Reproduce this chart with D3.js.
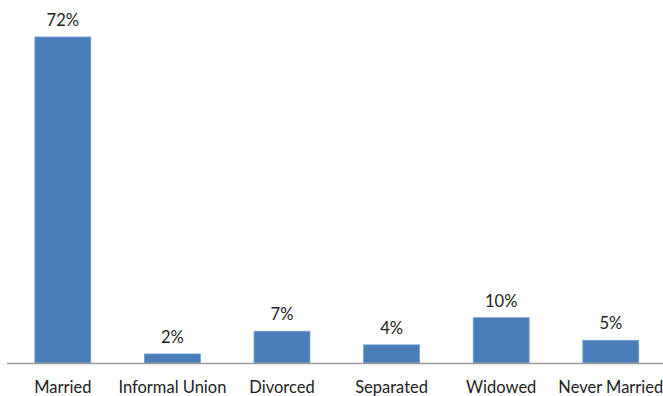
<!DOCTYPE html>
<html>
<head>
<meta charset="utf-8">
<script src="https://cdn.jsdelivr.net/npm/d3@7"></script>
<style>
  html, body { margin: 0; padding: 0; background: #fff; }
  svg { display: block; }
  text { font-family: Lato, "Open Sans", sans-serif; fill: #222; }
</style>
</head>
<body>
<svg id="chart" width="663" height="396"></svg>
<script>
// Marital status distribution (percent)
const categories = ["Married", "Informal Union", "Divorced", "Separated", "Widowed", "Never Married"];
const values = [72, 2, 7, 4, 10, 5];

const width = 663, height = 396;
const baseY = 363;
const svg = d3.select("#chart");

const x = d3.scaleBand()
  .domain(categories)
  .range([8, 665.6])
  .paddingInner(0.49)
  .paddingOuter(0.245);

const y = d3.scaleLinear()
  .domain([0, 80])
  .range([baseY, baseY - 80 * 4.528]);

// Bars
svg.selectAll("rect.bar")
  .data(values)
  .join("rect")
  .attr("class", "bar")
  .attr("x", (d, i) => x(categories[i]))
  .attr("y", d => y(d))
  .attr("width", x.bandwidth())
  .attr("height", d => baseY - y(d))
  .attr("fill", "#4a7ebb")
  .attr("stroke", "#6e9bd1")
  .attr("stroke-width", 0.8);

// Value labels
svg.selectAll("text.val")
  .data(values)
  .join("text")
  .attr("class", "val")
  .attr("x", (d, i) => x(categories[i]) + x.bandwidth() / 2)
  .attr("y", d => y(d) - 11)
  .attr("text-anchor", "middle")
  .style("font-size", "16.5px")
  .text(d => d + "%");

// Category axis
const axis = svg.append("g")
  .attr("transform", `translate(0,${baseY})`)
  .call(d3.axisBottom(x).tickSize(0).tickPadding(18));
axis.select(".domain")
  .attr("d", `M7,0.5H663`)
  .attr("stroke", "#9a9a9a")
  .attr("stroke-width", 1.5);
axis.selectAll(".tick text")
  .style("font-size", "16.5px")
  .style("font-family", "Lato, 'Open Sans', sans-serif")
  .attr("fill", "#222");
</script>
</body>
</html>
